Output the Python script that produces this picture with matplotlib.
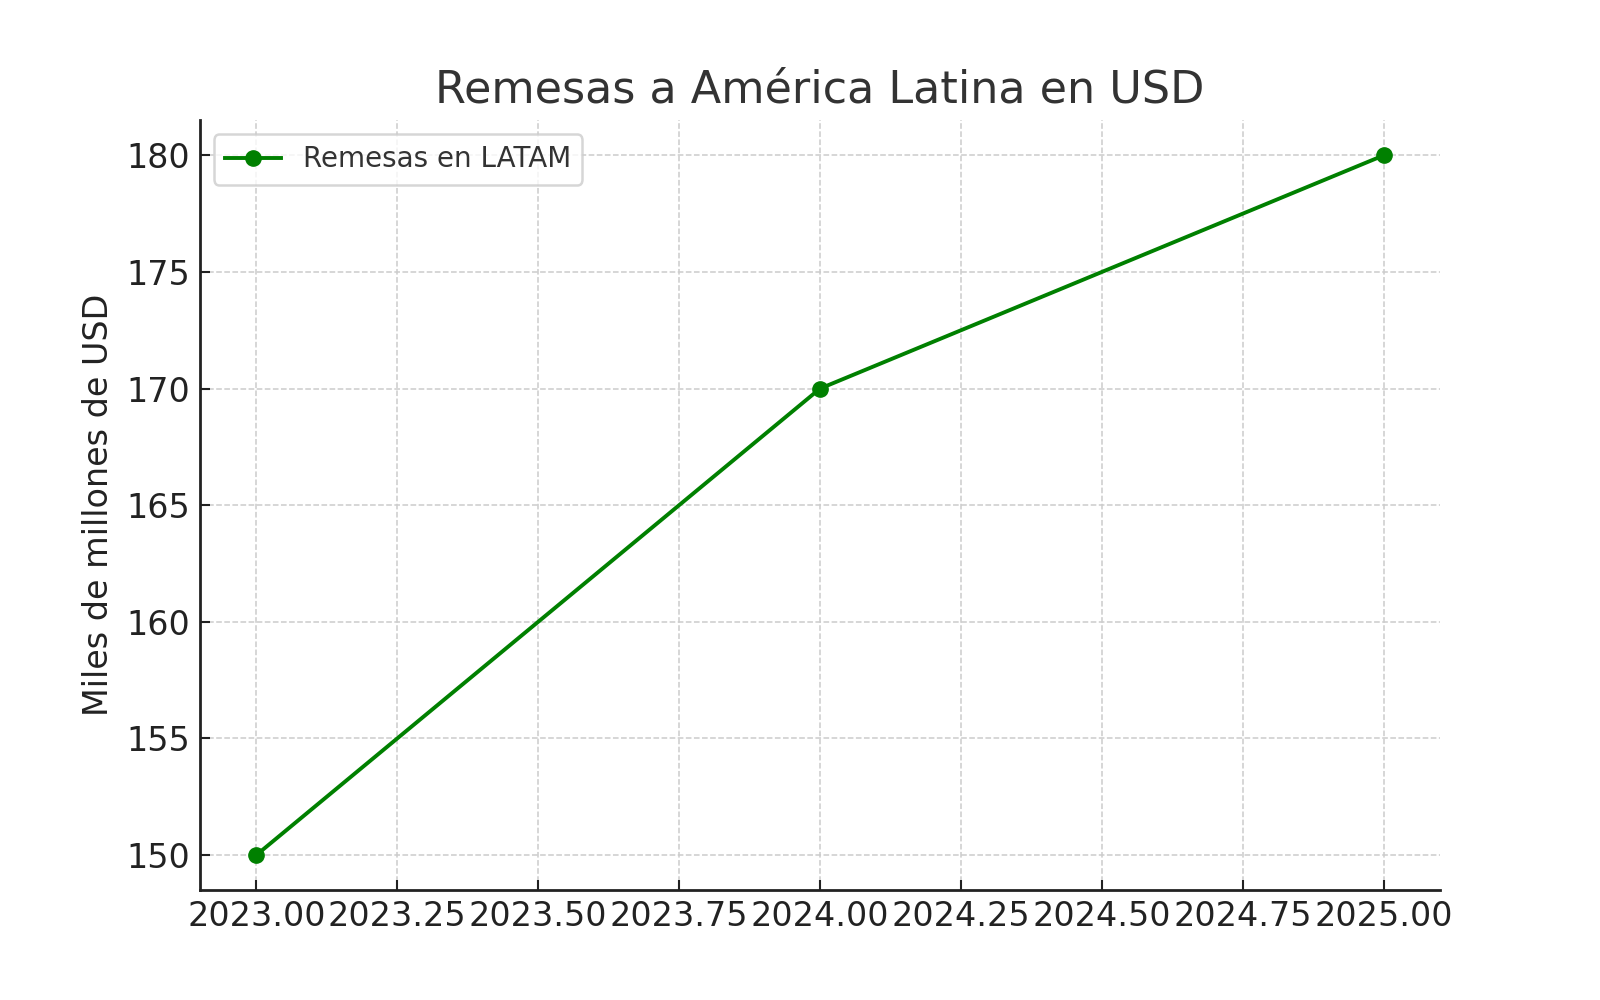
import matplotlib
matplotlib.use("Agg")
import matplotlib.pyplot as plt

years = [2023, 2024, 2025]
remesas = [150, 170, 180]
series_label = "Remesas en LATAM"
title = "Remesas a América Latina en USD"
ylabel = "Miles de millones de USD"
xticks = [2023.0, 2023.25, 2023.5, 2023.75, 2024.0, 2024.25, 2024.5, 2024.75, 2025.0]

plt.rcParams['font.family'] = ['DejaVu Sans']
fig = plt.figure(figsize=(16, 10), dpi=100)
ax = fig.add_axes([0.125, 0.110, 0.775, 0.7696])

ax.plot(years, remesas, color='green', linewidth=2.8, marker='o', markersize=11,
        label=series_label)

ax.set_title(title, fontsize=32, color='#333333', pad=13)
ax.set_ylabel(ylabel, fontsize=24, color='#222222', labelpad=8)
ax.tick_params(axis='both', direction='in', labelsize=24, length=7, width=1.5,
               colors='#222222', pad=7)
ax.set_xticks(xticks)
ax.set_xticklabels([f"{v:.2f}" for v in xticks])
ax.grid(True, linestyle='--', color='#cccccc', linewidth=1.1)
for s in ['top', 'right']:
    ax.spines[s].set_visible(False)
for s in ['left', 'bottom']:
    ax.spines[s].set_linewidth(2)
    ax.spines[s].set_color('#222222')

leg = ax.legend(loc='upper left', fontsize=20, frameon=True, borderpad=0.4,
                handlelength=2.0)
leg.get_frame().set_edgecolor('#cccccc')
leg.get_frame().set_linewidth(1.8)
for t in leg.get_texts():
    t.set_color('#333333')

fig.savefig("out.png", dpi=100)
